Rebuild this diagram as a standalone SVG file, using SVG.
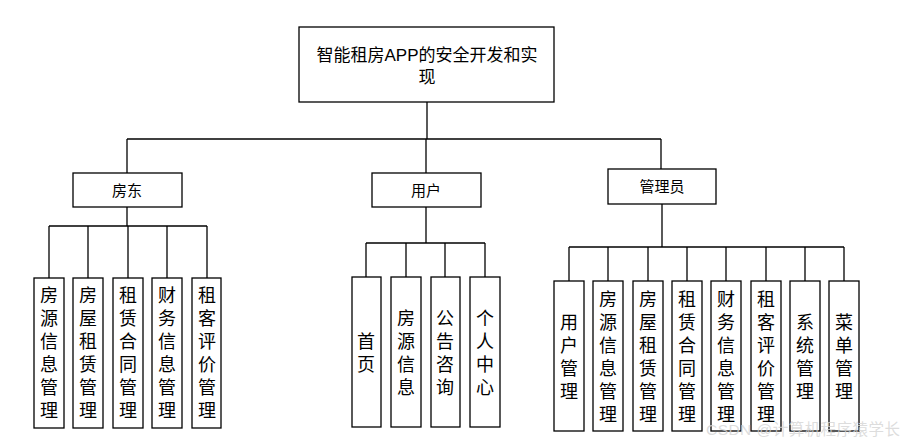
<svg xmlns="http://www.w3.org/2000/svg" width="918" height="445" viewBox="0 0 918 445">
<style>
rect{fill:#fff;stroke:#000;stroke-width:1.3}
.c line{stroke:#000;stroke-width:1.3}
text{font-family:"Liberation Sans","Noto Sans CJK SC",sans-serif;fill:#000;text-anchor:middle}
.h{font-size:15px}
.v{font-size:18px}
.r{font-size:17px}
.w{font-size:15.5px;fill:#d4d4d4;fill-opacity:0.8;text-anchor:start}
</style>
<rect width="918" height="445" style="stroke:none"/>
<g class="c">
<line x1="427" y1="102" x2="427" y2="139"/><line x1="127" y1="139" x2="661" y2="139"/>
<line x1="127" y1="139" x2="127" y2="173"/><line x1="426" y1="139" x2="426" y2="173"/><line x1="661" y1="139" x2="661" y2="169"/>
<line x1="127" y1="207" x2="127" y2="226"/><line x1="49" y1="226" x2="207" y2="226"/>
<line x1="49" y1="226" x2="49" y2="278"/><line x1="88" y1="226" x2="88" y2="278"/><line x1="128" y1="226" x2="128" y2="278"/><line x1="167" y1="226" x2="167" y2="278"/><line x1="207" y1="226" x2="207" y2="278"/>
<line x1="426" y1="207" x2="426" y2="243"/><line x1="366" y1="243" x2="485" y2="243"/>
<line x1="366" y1="243" x2="366" y2="277"/><line x1="406" y1="243" x2="406" y2="277"/><line x1="445" y1="243" x2="445" y2="277"/><line x1="485" y1="243" x2="485" y2="277"/>
<line x1="662" y1="204" x2="662" y2="247"/><line x1="569" y1="247" x2="844" y2="247"/>
<line x1="569" y1="247" x2="569" y2="281"/><line x1="608" y1="247" x2="608" y2="281"/><line x1="648" y1="247" x2="648" y2="281"/><line x1="687" y1="247" x2="687" y2="281"/><line x1="726" y1="247" x2="726" y2="281"/><line x1="766" y1="247" x2="766" y2="281"/><line x1="805" y1="247" x2="805" y2="281"/><line x1="844" y1="247" x2="844" y2="281"/>
</g>
<g id="root"><rect x="299" y="27" width="255" height="75"/><text class="r" x="427" y="61">智能租房APP的安全开发和实</text><text class="r" x="427" y="83">现</text></g>
<g id="fd"><rect x="73" y="173" width="109" height="34"/><text class="h" x="127" y="196">房东</text></g>
<g id="yh"><rect x="372" y="173" width="109" height="34"/><text class="h" x="426" y="196">用户</text></g>
<g id="gly"><rect x="608" y="169" width="108" height="35"/><text class="h" x="662" y="192">管理员</text></g>
<g id="f1"><rect x="34" y="278" width="30" height="150"/><text class="v" x="49"><tspan x="49" y="302">房</tspan><tspan x="49" y="325">源</tspan><tspan x="49" y="348">信</tspan><tspan x="49" y="371">息</tspan><tspan x="49" y="394">管</tspan><tspan x="49" y="417">理</tspan></text></g>
<g id="f2"><rect x="73" y="278" width="30" height="150"/><text class="v" x="88"><tspan x="88" y="302">房</tspan><tspan x="88" y="325">屋</tspan><tspan x="88" y="348">租</tspan><tspan x="88" y="371">赁</tspan><tspan x="88" y="394">管</tspan><tspan x="88" y="417">理</tspan></text></g>
<g id="f3"><rect x="113" y="278" width="30" height="150"/><text class="v" x="128"><tspan x="128" y="302">租</tspan><tspan x="128" y="325">赁</tspan><tspan x="128" y="348">合</tspan><tspan x="128" y="371">同</tspan><tspan x="128" y="394">管</tspan><tspan x="128" y="417">理</tspan></text></g>
<g id="f4"><rect x="152" y="278" width="30" height="150"/><text class="v" x="167"><tspan x="167" y="302">财</tspan><tspan x="167" y="325">务</tspan><tspan x="167" y="348">信</tspan><tspan x="167" y="371">息</tspan><tspan x="167" y="394">管</tspan><tspan x="167" y="417">理</tspan></text></g>
<g id="f5"><rect x="192" y="278" width="29" height="150"/><text class="v" x="207"><tspan x="207" y="302">租</tspan><tspan x="207" y="325">客</tspan><tspan x="207" y="348">评</tspan><tspan x="207" y="371">价</tspan><tspan x="207" y="394">管</tspan><tspan x="207" y="417">理</tspan></text></g>
<g id="u1"><rect x="352" y="277" width="29" height="150"/><text class="v"><tspan x="366" y="348">首</tspan><tspan x="366" y="371">页</tspan></text></g>
<g id="u2"><rect x="391" y="277" width="30" height="150"/><text class="v"><tspan x="406" y="325">房</tspan><tspan x="406" y="348">源</tspan><tspan x="406" y="371">信</tspan><tspan x="406" y="394">息</tspan></text></g>
<g id="u3"><rect x="431" y="277" width="29" height="150"/><text class="v"><tspan x="445" y="325">公</tspan><tspan x="445" y="348">告</tspan><tspan x="445" y="371">咨</tspan><tspan x="445" y="394">询</tspan></text></g>
<g id="u4"><rect x="470" y="277" width="30" height="150"/><text class="v"><tspan x="485" y="325">个</tspan><tspan x="485" y="348">人</tspan><tspan x="485" y="371">中</tspan><tspan x="485" y="394">心</tspan></text></g>
<g id="a1"><rect x="554" y="281" width="30" height="150"/><text class="v"><tspan x="569" y="329">用</tspan><tspan x="569" y="352">户</tspan><tspan x="569" y="375">管</tspan><tspan x="569" y="398">理</tspan></text></g>
<g id="a2"><rect x="593" y="281" width="30" height="150"/><text class="v"><tspan x="608" y="306">房</tspan><tspan x="608" y="329">源</tspan><tspan x="608" y="352">信</tspan><tspan x="608" y="375">息</tspan><tspan x="608" y="398">管</tspan><tspan x="608" y="421">理</tspan></text></g>
<g id="a3"><rect x="633" y="281" width="30" height="150"/><text class="v"><tspan x="648" y="306">房</tspan><tspan x="648" y="329">屋</tspan><tspan x="648" y="352">租</tspan><tspan x="648" y="375">赁</tspan><tspan x="648" y="398">管</tspan><tspan x="648" y="421">理</tspan></text></g>
<g id="a4"><rect x="672" y="281" width="30" height="150"/><text class="v"><tspan x="687" y="306">租</tspan><tspan x="687" y="329">赁</tspan><tspan x="687" y="352">合</tspan><tspan x="687" y="375">同</tspan><tspan x="687" y="398">管</tspan><tspan x="687" y="421">理</tspan></text></g>
<g id="a5"><rect x="711" y="281" width="30" height="150"/><text class="v"><tspan x="726" y="306">财</tspan><tspan x="726" y="329">务</tspan><tspan x="726" y="352">信</tspan><tspan x="726" y="375">息</tspan><tspan x="726" y="398">管</tspan><tspan x="726" y="421">理</tspan></text></g>
<g id="a6"><rect x="751" y="281" width="30" height="150"/><text class="v"><tspan x="766" y="306">租</tspan><tspan x="766" y="329">客</tspan><tspan x="766" y="352">评</tspan><tspan x="766" y="375">价</tspan><tspan x="766" y="398">管</tspan><tspan x="766" y="421">理</tspan></text></g>
<g id="a7"><rect x="790" y="281" width="30" height="150"/><text class="v"><tspan x="805" y="329">系</tspan><tspan x="805" y="352">统</tspan><tspan x="805" y="375">管</tspan><tspan x="805" y="398">理</tspan></text></g>
<g id="a8"><rect x="829" y="281" width="30" height="150"/><text class="v"><tspan x="844" y="329">菜</tspan><tspan x="844" y="352">单</tspan><tspan x="844" y="375">管</tspan><tspan x="844" y="398">理</tspan></text></g>
<text class="w" x="706" y="435" textLength="194">CSDN @计算机程序猿学长</text>
</svg>
